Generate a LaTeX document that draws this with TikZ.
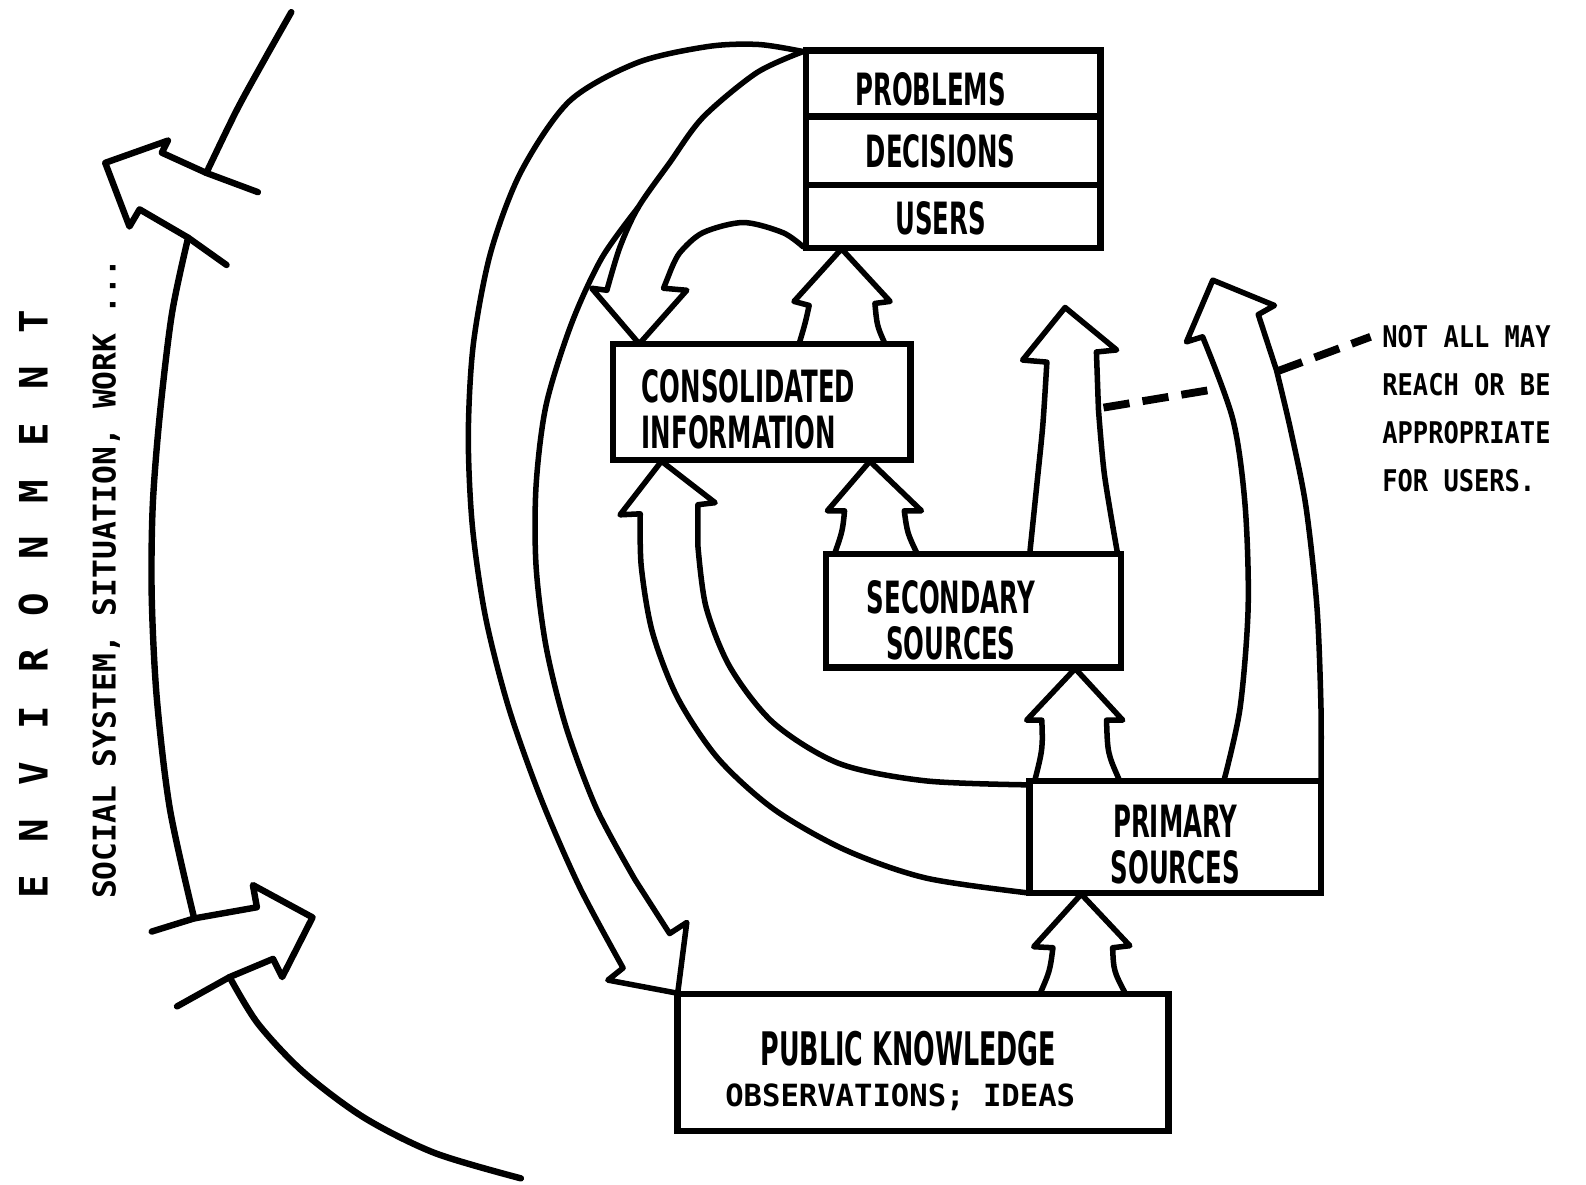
\documentclass[tikz,border=0pt]{standalone}
\usepackage{fontspec}
\newfontfamily\boxfont[FakeStretch=0.55]{DejaVu Sans}
\newfontfamily\typefont{DejaVu Sans Mono}
\newfontfamily\notefont[FakeStretch=0.85]{DejaVu Sans Mono}

\begin{document}
\begin{tikzpicture}[x=0.01cm, y=-0.01cm,
        box/.style={draw, line width=1.8pt, inner sep=0pt},
        lbl/.style={font=\boxfont\bfseries\fontsize{12.5}{13}\selectfont, align=center, inner sep=0pt},
        typ/.style={font=\typefont\bfseries\fontsize{8.6}{9}\selectfont, inner sep=0pt},
        fat/.style={line width=1.55pt, line join=round, line cap=round},
        dashline/.style={line width=2.2pt, dash pattern=on 0.26cm off 0.13cm}]

        \useasboundingbox (0,0) rectangle (1568,1171);

        % boxes
        \node[box, minimum width=2.91cm, minimum height=0.65cm] (problems) at (942.5,82.5) {};
        \node[box, minimum width=2.91cm, minimum height=0.68cm] (decisions) at (942.5,149) {};
        \node[box, minimum width=2.91cm, minimum height=0.62cm] (users) at (942.5,214) {};
        \node[box, minimum width=2.94cm, minimum height=1.15cm] (cons) at (753,397.5) {};
        \node[box, minimum width=2.91cm, minimum height=1.12cm] (sec) at (962.5,604) {};
        \node[box, minimum width=2.88cm, minimum height=1.11cm] (prim) at (1162,827.5) {};
        \node[box, minimum width=4.85cm, minimum height=1.35cm] (pk) at (912.5,1050.5) {};

        \node[lbl] (problemsT) at (920,88) {PROBLEMS};
        \node[lbl] (decisionsT) at (930,150) {DECISIONS};
        \node[lbl] (usersT) at (930,216) {USERS};
        \node[lbl, align=left] (consT) at (740,405) {CONSOLIDATED\\INFORMATION};
        \node[lbl] (secT) at (940,613) {SECONDARY\\SOURCES};
        \node[lbl] (primT) at (1162,835) {PRIMARY\\SOURCES};
        \node[lbl, font=\boxfont\bfseries\fontsize{13}{14}\selectfont] (pkT) at (898,1037) {PUBLIC KNOWLEDGE};
        \node[typ] (pkSub) at (890,1085) {OBSERVATIONS; IDEAS};

        % environment
        \foreach \c [count=\i from 0] in {E,N,V,I,R,O,N,M,E,N,T}{
            \node[typ, font=\typefont\bfseries\fontsize{11}{12}\selectfont, rotate=90] (env\i) at (33,{877-55.9*\i}) {\c};
        }
        \node[typ, font=\typefont\bfseries\fontsize{8.8}{9}\selectfont, rotate=90] (social) at (105,572) {SOCIAL SYSTEM, SITUATION, WORK ...};

        \draw[fat, line width=1.8pt] plot[smooth] coordinates {(288,12) (262,58) (234,109) (204,171)};
        \draw[fat, line width=1.8pt] plot[smooth] coordinates {(186,235) (170,310) (158,410) (151,500) (150,590) (155,690) (168,800) (192,908)};
        \draw[fat, line width=1.8pt] plot[smooth] coordinates {(227,966) (255,1012) (300,1060) (360,1105) (430,1140) (515,1165)};

        \draw[fat, line width=1.8pt] (255,190) -- (204,171) -- (160,151) -- (166,139) -- (104,161) -- (128,224) -- (138,207) -- (186,235) -- (224,262);
        \draw[fat, line width=1.8pt] (150,921) -- (192,908) -- (254,897) -- (250,875) -- (309,907) -- (279,966) -- (270,948) -- (227,966) -- (175,995);

        % block arrows
        \draw[fat] (790,340) .. controls (796,320) .. (800,302) -- (785,298) -- (832,246) -- (880,298) -- (865,300) .. controls (867,322) .. (875,340);
        \draw[fat] plot[smooth] coordinates {(794,51) (748,72) (695,116) (662,161) (631,205) (613,244) (600,287)} -- (585,285) -- (632,340) -- (679,287) -- (656,285) -- plot[smooth] coordinates {(662,270) (672,250) (695,230) (735,220) (774,230) (794,244)};
        \draw[fat] plot[smooth] coordinates {(794,51) (750,44) (700,46) (630,62) (563,100) (515,170) (485,250) (468,340) (463,430) (467,520) (480,610) (503,700) (535,790) (573,877) (616,957)} -- (601,969) -- (670,982) -- (679,912) -- (662,923) -- plot[smooth] coordinates {(628,870) (590,800) (560,720) (540,640) (530,560) (530,480) (540,400) (565,320) (595,255) (631,205)};
        \draw[fat] plot[smooth] coordinates {(1018,883) (915,868) (835,840) (765,800) (710,750) (670,690) (645,625) (634,560) (633,508)} -- (613,509) -- (654,456) -- (707,497) -- (690,499) -- plot[smooth] coordinates {(690,540) (698,600) (722,660) (765,715) (830,755) (915,772) (1018,776)};
        \draw[fat] (825,548) .. controls (833,525) .. (835,505) -- (818,505) -- (860,456) -- (911,505) -- (894,505) .. controls (897,527) .. (907,548);
        \draw[fat] plot[smooth] coordinates {(1018,548) (1025,480) (1031,420) (1035,358)} -- (1011,356) -- (1053,304) -- (1104,346) -- (1084,348) -- plot[smooth] coordinates {(1086,405) (1092,470) (1105,548)};
        \draw[fat] plot[smooth] coordinates {(1210,772) (1226,700) (1234,600) (1231,500) (1219,415) (1189,333)} -- (1173,338) -- (1199,277) -- (1260,302) -- (1244,311) -- plot[smooth] coordinates {(1262,366) (1276,425) (1291,500) (1302,600) (1306,700) (1306,772)};
        \draw[fat] (1023,772) .. controls (1031,740) .. (1030,712) -- (1015,712) -- (1063,661) -- (1110,712) -- (1094,712) .. controls (1095,745) .. (1107,772);
        \draw[fat] (1028,983) .. controls (1038,960) .. (1041,937) -- (1022,936) -- (1069,884) -- (1117,935) -- (1100,937) .. controls (1101,960) .. (1113,983);

        % note
        \node[typ, font=\notefont\bfseries\fontsize{8.4}{13.5}\selectfont, anchor=west, align=left] (note) at (1366,404) {NOT ALL MAY\\REACH OR BE\\APPROPRIATE\\FOR USERS.};
        \draw[dashline] (1091,403) -- (1206,384);
        \draw[dashline] (1263,367) -- (1355,333);

    \end{tikzpicture}
\end{document}
